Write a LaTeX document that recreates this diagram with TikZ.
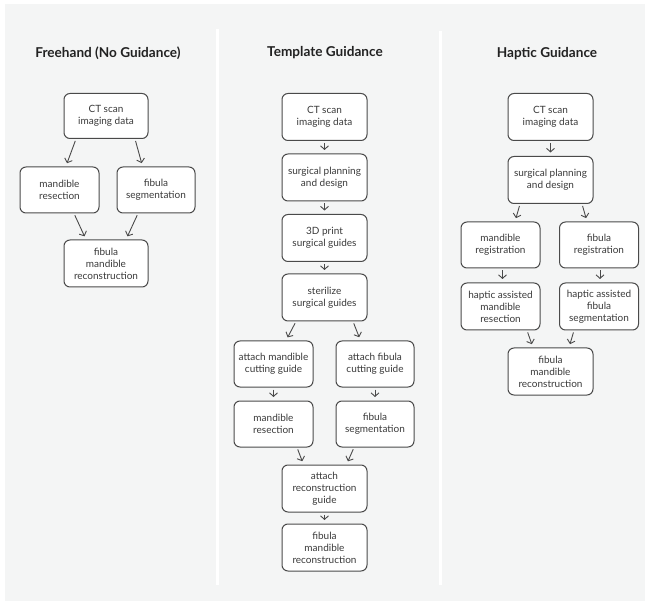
\documentclass[tikz,border=0pt]{standalone}
\usepackage{fontspec}
\setmainfont{Lato}
\usetikzlibrary{arrows.meta}
\definecolor{bgc}{HTML}{F4F5F5}
\definecolor{bordc}{HTML}{4A4A4A}
\definecolor{txtc}{HTML}{3A3A3A}
\definecolor{titc}{HTML}{222222}
\tikzset{
  box/.style={draw=bordc, fill=white, rounded corners=6pt, line width=1pt, align=center, inner sep=0pt, text=txtc, font=\fontsize{10}{12}\selectfont},
  wb/.style={box, minimum width=85pt, minimum height=47pt},
  nb/.style={box, minimum width=79pt, minimum height=46pt},
  ttl/.style={text=titc, font=\fontsize{13.6}{16}\selectfont\bfseries},
  arr/.style={draw=bordc, line width=0.9pt, -{Straight Barb[length=3.6pt,width=8pt]}, shorten <=2pt, shorten >=3.5pt},
  sep/.style={fill=white, draw=none}
}
\begin{document}
\begin{tikzpicture}[x=1pt,y=-1pt]
\useasboundingbox (0,0) rectangle (645,601);
\fill[white] (0,0) rectangle (645,601);
\fill[bgc] (5,4) rectangle (645,601);
\fill[sep] (216,29) rectangle (219,585);
\fill[sep] (439,31) rectangle (442,585);
% titles
\node[ttl] (t1) at (108,53) {Freehand (No Guidance)};
\node[ttl] (t2) at (325,53) {Template Guidance};
\node[ttl] (t3) at (547,54) {Haptic Guidance};
% column 1
\node[wb, minimum width=84pt, minimum height=45pt] (c1) at (106,116) {CT scan\\imaging data};
\node[nb] (m1) at (59.5,190) {mandible\\resection};
\node[nb, minimum width=78pt] (f1) at (156,190) {fibula\\segmentation};
\node[wb, minimum width=84pt] (r1) at (106,263.5) {fibula\\mandible\\reconstruction};
\draw[arr] ([xshift=-30pt]c1.south) -- ([xshift=6.3pt]m1.north);
\draw[arr] ([xshift=29pt]c1.south) -- ([xshift=-13.4pt]f1.north);
\draw[arr] ([xshift=14.5pt]m1.south) -- ([xshift=-20pt]r1.north);
\draw[arr] ([xshift=-18pt]f1.south) -- ([xshift=20pt]r1.north);
% column 2
\node[wb] (c2) at (324.5,117) {CT scan\\imaging data};
\node[wb] (p2) at (324.5,177.5) {surgical planning\\and design};
\node[wb] (d2) at (324.5,238) {3D print\\surgical guides};
\node[wb] (s2) at (324.5,297.5) {sterilize\\surgical guides};
\node[nb] (am2) at (273.5,364) {attach mandible\\cutting guide};
\node[nb, minimum width=78pt] (af2) at (375,364) {attach fibula\\cutting guide};
\node[nb] (m2) at (273.5,424) {mandible\\resection};
\node[nb, minimum width=78pt] (f2) at (375,424) {fibula\\segmentation};
\node[wb] (ar2) at (324.5,488.5) {attach\\reconstruction\\guide};
\node[wb] (r2) at (324.5,547.5) {fibula\\mandible\\reconstruction};
\draw[arr] (c2) -- (p2);
\draw[arr] (p2) -- (d2);
\draw[arr] (d2) -- (s2);
\draw[arr] ([xshift=-28.5pt]s2.south) -- ([xshift=12.5pt]am2.north);
\draw[arr] ([xshift=28.5pt]s2.south) -- ([xshift=-14.5pt]af2.north);
\draw[arr] (am2) -- (m2);
\draw[arr] (af2) -- (f2);
\draw[arr] ([xshift=23.5pt]m2.south) -- ([xshift=-21pt]ar2.north);
\draw[arr] ([xshift=-21pt]f2.south) -- ([xshift=22pt]ar2.north);
\draw[arr] (ar2) -- (r2);
% column 3
\node[wb] (c3) at (550.5,117) {CT scan\\imaging data};
\node[wb] (p3) at (550.5,180) {surgical planning\\and design};
\node[nb] (mr3) at (500.5,245) {mandible\\registration};
\node[nb] (fr3) at (599,245) {fibula\\registration};
\node[nb, minimum height=47pt] (hm3) at (500.5,306.5) {haptic assisted\\mandible\\resection};
\node[nb, minimum height=47pt] (hf3) at (599,306.5) {haptic assisted\\fibula\\segmentation};
\node[wb] (r3) at (550.5,371.5) {fibula\\mandible\\reconstruction};
\draw[arr] (c3) -- (p3);
\draw[arr] ([xshift=-30.5pt]p3.south) -- ([xshift=14.5pt]mr3.north);
\draw[arr] ([xshift=31.5pt]p3.south) -- ([xshift=-12pt]fr3.north);
\draw[arr] ([xshift=2pt]mr3.south) -- ([xshift=2pt]hm3.north);
\draw[arr] ([xshift=1pt]fr3.south) -- ([xshift=1pt]hf3.north);
\draw[arr] ([xshift=26.5pt]hm3.south) -- ([xshift=-17.5pt]r3.north);
\draw[arr] ([xshift=-25pt]hf3.south) -- ([xshift=18.5pt]r3.north);
\end{tikzpicture}
\end{document}
